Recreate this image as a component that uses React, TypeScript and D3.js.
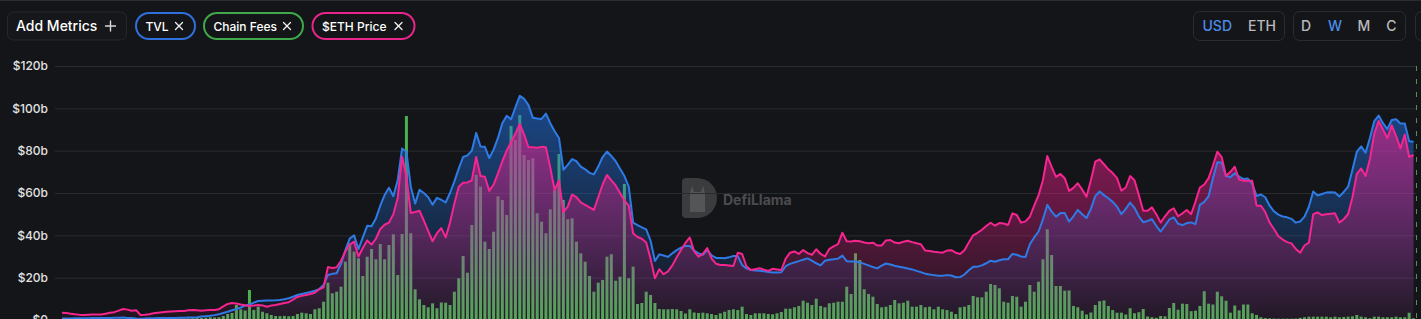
import React, { useEffect } from 'react';
import * as d3 from 'd3';

// Weekly series, first week starting 2019-11-03
const START = Date.UTC(2019, 10, 3);

// Ethereum TVL ($ billions)
const tvl: number[] = [
  0.7,0.7,0.7,0.8,0.8,0.8,0.8,0.9,0.9,1.0,
  1.0,1.0,1.1,1.1,1.2,1.0,1.0,0.7,0.6,0.7,
  0.8,0.8,0.9,0.9,1.0,1.0,1.0,1.1,1.1,1.2,
  1.2,1.3,1.6,1.8,2.0,2.3,2.7,3.3,3.9,4.6,
  5.2,5.9,6.8,7.3,8.2,9.0,9.1,9.2,9.2,9.3,
  9.5,9.8,10.3,11.0,11.8,12.3,12.8,13.2,13.8,14.6,
  16.5,21.3,21.8,22.1,26.5,33.0,38.5,40.0,33.5,39.0,
  44.5,44.3,48.0,54.0,59.0,62.5,58.5,66.0,81.0,79.5,
  63.0,55.0,61.5,60.0,58.0,54.5,57.7,56.8,55.5,60.0,
  65.5,71.5,77.0,77.8,80.0,88.4,82.0,81.8,76.5,80.5,
  86.0,93.0,96.5,94.8,100.5,105.9,104.5,101.5,95.5,95.2,
  95.0,97.5,93.0,89.2,86.0,71.0,73.3,76.0,75.0,72.5,
  71.2,69.5,68.8,72.5,77.0,79.6,77.5,75.0,71.5,68.0,
  63.0,46.0,44.8,43.8,42.8,37.5,27.9,31.0,30.5,29.8,
  31.5,33.0,34.2,35.0,35.0,32.8,31.5,30.8,33.0,30.5,
  29.3,29.3,29.2,29.6,30.2,30.2,26.0,24.4,23.6,23.4,
  23.3,23.0,22.7,22.4,22.4,22.6,25.4,26.5,27.2,27.8,
  28.5,29.1,28.0,26.8,25.8,28.0,28.5,28.7,29.0,30.4,
  27.8,27.6,27.6,27.2,26.5,25.8,25.0,24.4,25.7,26.7,
  26.2,25.6,25.2,24.8,24.3,23.9,23.2,22.6,21.9,21.5,
  21.2,20.9,20.9,21.2,21.0,20.2,20.3,21.5,23.5,25.1,
  25.2,25.8,26.8,28.0,27.5,28.2,28.7,28.7,31.2,30.8,
  30.0,29.8,35.8,39.0,41.8,47.5,54.4,51.2,48.8,50.5,
  50.5,46.5,49.0,52.0,50.0,48.2,52.5,58.5,60.7,59.0,
  57.5,55.8,53.5,50.0,52.5,55.5,53.0,49.0,46.2,46.8,
  47.6,44.5,41.8,44.6,47.5,48.5,45.5,44.8,45.8,46.1,
  45.3,54.4,55.8,58.5,67.0,74.5,74.3,68.0,67.5,69.3,
  67.8,66.6,66.8,64.5,58.6,59.3,58.0,54.0,51.3,49.8,
  48.9,48.5,47.8,46.0,46.5,48.8,53.5,60.7,58.8,59.5,
  60.2,60.4,60.2,58.3,60.5,63.0,71.0,79.5,82.0,79.0,
  86.0,94.0,96.6,93.0,90.2,94.5,94.8,92.8,92.8,84.5,84.2,
];

// $ETH price (USD)
const ethPrice: number[] = [
  172,165,150,135,125,118,122,128,128,130,
  150,172,185,222,260,245,220,232,118,125,
  135,160,172,185,196,200,206,210,215,230,
  236,228,220,230,236,236,255,320,380,400,
  390,365,350,330,340,355,345,315,340,355,
  380,400,420,480,545,570,590,615,645,725,
  770,1250,1225,1245,1400,1620,1780,1850,1500,1700,
  1880,1780,1920,2150,2250,2300,2500,2880,3857,3400,
  2530,2550,2580,2350,2100,1860,2050,2170,1950,2300,
  2750,3150,3240,3250,3300,3850,3400,3385,3050,3200,
  3465,3750,4000,4200,4400,4630,4380,4080,4080,4070,
  4090,4080,3600,3071,3300,2550,2680,2960,2900,2780,
  2720,2660,2600,2900,3200,3425,3300,3180,3000,2820,
  2700,2048,1960,1920,1830,1450,985,1200,1080,1150,
  1290,1480,1660,1820,1950,1620,1495,1560,1700,1450,
  1330,1300,1300,1290,1275,1590,1560,1270,1180,1200,
  1221,1190,1160,1210,1195,1181,1450,1590,1620,1560,
  1653,1580,1540,1670,1560,1500,1680,1740,1790,2062,
  1860,1855,1870,1860,1830,1815,1826,1760,1760,1880,
  1890,1830,1812,1850,1873,1840,1812,1790,1640,1630,
  1613,1600,1590,1640,1650,1590,1559,1650,1830,2000,
  2060,2130,2220,2298,2227,2290,2280,2244,2520,2480,
  2300,2330,2440,2700,2950,3300,3874,3620,3380,3450,
  3350,3050,3120,3229,3080,2912,3300,3739,3796,3680,
  3560,3470,3350,3054,3130,3400,3300,2950,2582,2580,
  2660,2500,2300,2450,2580,2640,2450,2520,2600,2500,
  2800,3130,3200,3350,3650,3975,3850,3400,3500,3621,
  3320,3290,3290,3290,2700,2700,2550,2300,2150,1980,
  1900,1840,1810,1680,1590,1760,1826,2500,2540,2480,
  2500,2510,2520,2300,2380,2504,2900,3450,3580,3400,
  3800,4400,4700,4500,4292,4600,4350,4050,4380,3850,3897,
];

// Weekly chain fees ($ millions)
const chainFees: number[] = [
  0.8,0.9,0.8,1.0,0.9,1.1,1.0,1.2,1.3,1.5,
  1.4,1.6,1.8,2.0,1.7,1.5,1.6,1.4,1.5,1.6,
  1.7,1.6,1.8,2.0,2.2,2.5,2.8,3.0,2.6,2.7,
  3.2,3.5,3.4,3.8,4.5,4.2,4.5,6.6,9.9,11.6,
  24.8,17.7,15.7,49.6,16.5,22.0,13.7,11.1,8.3,6.6,
  6.4,6.8,6.2,6.6,9.9,12.1,11.1,9.9,17.7,19.4,
  30.3,61.7,44.2,46.8,55.1,96.4,126.9,113.0,102.0,72.8,
  104.7,117.4,100.4,125.7,100.4,124.0,141.7,74.4,142.2,337.4,
  143.4,50.8,34.2,24.8,21.0,27.6,19.4,29.0,28.6,24.8,
  46.8,69.0,105.9,78.2,157.1,239.8,220.5,129.5,117.4,146.0,
  204.6,198.5,173.7,320.9,297.7,339.0,272.9,264.6,267.5,176.5,
  162.6,143.4,183.1,215.0,274.6,198.5,166.6,168.2,129.5,110.3,
  96.4,72.8,46.8,61.7,66.2,104.7,108.7,65.0,71.6,225.0,
  69.0,88.2,26.5,28.1,46.8,41.4,28.1,18.2,17.7,17.7,
  18.2,17.7,14.9,10.8,17.7,12.4,11.6,12.1,11.1,9.9,
  8.3,11.1,13.7,16.5,17.7,16.5,22.0,9.9,8.3,11.1,
  11.1,11.1,9.9,9.4,11.1,13.2,18.7,18.7,21.0,23.2,
  31.9,28.6,24.8,35.2,23.2,21.0,27.6,28.6,30.3,30.3,
  55.1,43.0,110.3,99.2,50.8,43.0,38.5,26.5,21.0,22.0,
  24.8,33.1,27.6,28.6,31.9,22.0,22.0,24.8,21.0,22.0,
  17.7,22.0,17.7,16.5,13.7,9.9,21.0,22.0,24.8,39.7,
  37.5,37.5,46.8,59.5,57.9,52.4,30.3,28.6,39.7,38.5,
  22.0,30.3,57.9,46.8,63.3,100.4,150.0,107.5,56.2,56.2,
  48.5,48.8,23.2,21.0,15.4,9.1,12.4,24.8,31.1,32.3,
  23.2,16.5,12.1,12.1,9.1,19.4,11.1,12.9,18.2,5.8,
  4.5,3.6,6.6,6.1,19.8,28.1,17.0,27.0,26.5,14.6,
  15.4,23.2,47.6,27.0,25.6,46.8,39.2,31.9,12.1,24.0,
  16.0,25.6,25.6,11.1,8.3,4.5,3.2,2.8,2.4,2.2,
  2.2,2.3,2.2,2.5,3.6,4.5,5.5,5.5,5.5,5.5,
  5.5,4.5,5.5,4.5,5.0,5.5,6.0,8.3,5.5,4.5,
  3.0,5.5,5.5,4.5,4.5,4.5,5.5,4.5,4.5,12.0,2.8,
];

const yTicks: number[] = [0, 20, 40, 60, 80, 100, 120];
const yTickLabels: string[] = ['$0', '$20b', '$40b', '$60b', '$80b', '$100b', '$120b'];

const metricPills = [
  { label: 'TVL', color: '#2f70dc' },
  { label: 'Chain Fees', color: '#3fa94a' },
  { label: '$ETH Price', color: '#e8258a' },
];
const currencyOptions = ['USD', 'ETH'];
const periodOptions = ['D', 'W', 'M', 'C'];

const BG = '#141518';
const FONT = 'Inter, "Noto Sans", sans-serif';

export default function App() {
  useEffect(() => {
    document.body.style.margin = '0';
    document.body.style.background = BG;
  }, []);

  const W = 1421;
  const H = 319;
  const plotLeft = 55;
  const plotRight = 1416.5;
  const yTop = 66;
  const yBottom = 320;

  const dates = tvl.map((_, i) => d3.utcWeek.offset(new Date(START), i));
  const x = d3.scaleUtc().domain([dates[0], dates[dates.length - 1]]).range([62, 1413.5]);
  const yTvl = d3.scaleLinear().domain([0, 120]).range([yBottom, yTop]);
  const yEth = d3.scaleLinear().domain([0, 6000]).range([yBottom, yTop]);
  const yFee = d3.scaleLinear().domain([0, 420]).range([yBottom, yTop]);

  const tvlArea = d3.area<number>().x((_, i) => x(dates[i])).y0(yBottom).y1((d) => yTvl(d))(tvl) || '';
  const tvlLine = d3.line<number>().x((_, i) => x(dates[i])).y((d) => yTvl(d))(tvl) || '';
  const ethArea = d3.area<number>().x((_, i) => x(dates[i])).y0(yBottom).y1((d) => yEth(d))(ethPrice) || '';
  const ethLine = d3.line<number>().x((_, i) => x(dates[i])).y((d) => yEth(d))(ethPrice) || '';
  const barW = 3;

  // pill geometry
  const pillX = [136, 204, 312.5];
  const pillW = [59, 99, 102];

  const closeIcon = (cx: number, cy: number, key: string) => (
    <g key={key} stroke="#f2f2f2" strokeWidth={1.3} strokeLinecap="round">
      <line x1={cx - 3.5} y1={cy - 3.5} x2={cx + 3.5} y2={cy + 3.5} />
      <line x1={cx - 3.5} y1={cy + 3.5} x2={cx + 3.5} y2={cy - 3.5} />
    </g>
  );

  const periodX = [1306, 1335, 1364, 1391.5];

  return (
    <svg width={W} height={H} style={{ display: 'block', background: BG }} fontFamily={FONT}>
      <defs>
        <linearGradient id="tvlGrad" gradientUnits="userSpaceOnUse" x1={0} y1={96} x2={0} y2={yBottom}>
          <stop offset="0%" stopColor="#2172e5" stopOpacity={0.55} />
          <stop offset="100%" stopColor="#2172e5" stopOpacity={0.03} />
        </linearGradient>
        <linearGradient id="ethGrad" gradientUnits="userSpaceOnUse" x1={0} y1={112} x2={0} y2={yBottom}>
          <stop offset="0%" stopColor="#eb1e8c" stopOpacity={0.62} />
          <stop offset="100%" stopColor="#eb1e8c" stopOpacity={0.06} />
        </linearGradient>
      </defs>
      <rect x={0} y={0} width={W} height={H} fill={BG} />
      <line x1={0} x2={W} y1={0.5} y2={0.5} stroke="#2c2d31" />

      {/* header controls */}
      <rect x={7.5} y={12} width={119} height={28} rx={6} fill="#16171a" stroke="#26282c" />
      <text x={16} y={31} fill="#ffffff" fontSize={14} fontWeight={500}>Add Metrics</text>
      <g stroke="#d8d8d8" strokeWidth={1.4} strokeLinecap="round">
        <line x1={105.5} x2={115.5} y1={26} y2={26} />
        <line x1={110.5} x2={110.5} y1={21} y2={31} />
      </g>
      {metricPills.map((p, i) => (
        <g key={p.label}>
          <rect x={pillX[i]} y={13} width={pillW[i]} height={26} rx={13} fill="none" stroke={p.color} strokeWidth={2} />
          <text x={pillX[i] + 9.5} y={30.5} fill="#ffffff" fontSize={12} fontWeight={500}>{p.label}</text>
          {closeIcon(pillX[i] + pillW[i] - 16, 26, p.label + 'x')}
        </g>
      ))}

      <rect x={1193.5} y={11.5} width={91} height={29} rx={6} fill="none" stroke="#2a2c31" />
      {currencyOptions.map((c, i) => (
        <text key={c} x={i === 0 ? 1202.5 : 1248} y={31} fontSize={14} fontWeight={500}
          fill={i === 0 ? '#4a8be8' : '#b8b9bc'}>{c}</text>
      ))}
      <rect x={1293.5} y={11.5} width={112} height={29} rx={6} fill="none" stroke="#2a2c31" />
      {periodOptions.map((p, i) => (
        <text key={p} x={periodX[i]} y={31} fontSize={14} fontWeight={500} textAnchor="middle"
          fill={p === 'W' ? '#4a8be8' : '#b8b9bc'}>{p}</text>
      ))}
      <rect x={1415.5} y={11.5} width={40} height={29} rx={6} fill="none" stroke="#2a2c31" />

      {/* watermark */}
      <g opacity={0.55}>
        <path d="M686,178 H697 A20,20 0 0 1 697,218 H686 Q682,218 682,214 V182 Q682,178 686,178 Z" fill="#5c5c5e" />
        <path d="M692,186 L694,192 L701,192 L703,186 L705,193 L705,212 L690,212 L690,193 Z" fill="#8a8a8c" />
        <text x={723} y={205} fontSize={14} fontWeight={700} fill="#7a7a7c">DefiLlama</text>
      </g>

      {/* grid */}
      {yTicks.map((t) => (
        <line key={t} x1={plotLeft} x2={plotRight} y1={yTvl(t) + 0.5} y2={yTvl(t) + 0.5} stroke="#2a2b2f" strokeWidth={1} />
      ))}
      {yTicks.map((t, i) => (
        <text key={'l' + t} x={48} y={yTvl(t)} dy="0.35em" textAnchor="end" fontSize={12} fontWeight={500} fill="#e2e2e2">
          {yTickLabels[i]}
        </text>
      ))}

      {/* fees bars */}
      {chainFees.map((f, i) => (
        <rect key={'b' + i} x={x(dates[i]) - barW / 2} width={barW} y={yFee(f)} height={yBottom - yFee(f)} fill="#4caf50" />
      ))}

      {/* areas */}
      <path d={tvlArea} fill="url(#tvlGrad)" />
      <path d={ethArea} fill="url(#ethGrad)" />
      <path d={tvlLine} fill="none" stroke="#2f7be6" strokeWidth={2} strokeLinejoin="round" />
      <path d={ethLine} fill="none" stroke="#f7258f" strokeWidth={2} strokeLinejoin="round" />

      {/* right dashed axis */}
      <line x1={plotRight} x2={plotRight} y1={yTop} y2={yBottom} stroke="#5e8a5e" strokeWidth={1} strokeDasharray="5,8" />
    </svg>
  );
}
